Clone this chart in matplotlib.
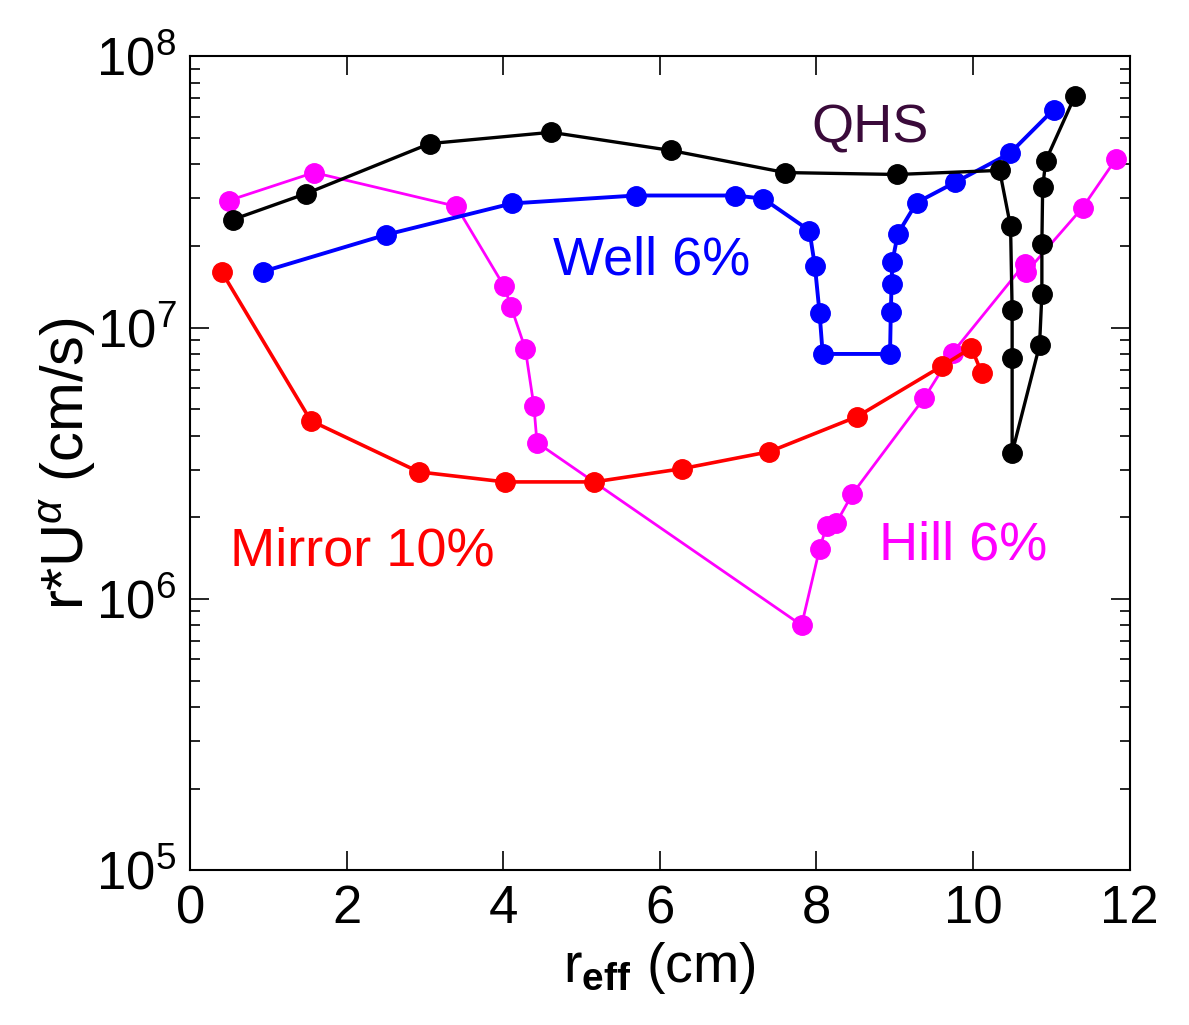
import numpy as np
import matplotlib
matplotlib.use('Agg')
import matplotlib.pyplot as plt
from matplotlib.ticker import LogLocator, NullFormatter

plt.rcParams['font.family'] = ['Liberation Sans', 'DejaVu Sans']
plt.rcParams['mathtext.fontset'] = 'custom'
plt.rcParams['mathtext.rm'] = 'Liberation Sans'
plt.rcParams['mathtext.it'] = 'Liberation Sans:italic'
plt.rcParams['mathtext.bf'] = 'Liberation Sans:bold'

# === Data ===
qhs_x = [0.54, 1.48, 3.06, 4.61, 6.14, 7.60, 9.03, 10.34, 10.48, 10.50, 10.50, 10.50,
         10.85, 10.88, 10.88, 10.89, 10.93, 11.30]
qhs_y = [2.5e7, 3.12e7, 4.77e7, 5.25e7, 4.5e7, 3.73e7, 3.67e7, 3.8e7, 2.36e7, 1.16e7, 7.7e6, 3.46e6,
         8.6e6, 1.33e7, 2.04e7, 3.29e7, 4.13e7, 7.12e7]

well_x = [0.93, 2.50, 4.11, 5.69, 6.96, 7.32, 7.91, 7.98, 8.04, 8.08, 8.94, 8.95, 8.96, 8.97,
          9.04, 9.28, 9.77, 10.47, 11.03]
well_y = [1.61e7, 2.2e7, 2.87e7, 3.07e7, 3.07e7, 2.99e7, 2.28e7, 1.69e7, 1.13e7, 8.0e6, 8.0e6,
          1.14e7, 1.45e7, 1.75e7, 2.22e7, 2.89e7, 3.43e7, 4.39e7, 6.37e7]

hill_x = [0.49, 1.58, 3.40, 4.01, 4.10, 4.28, 4.39, 4.43, 7.81, 8.04, 8.13, 8.25, 8.46, 9.38,
          9.74, 10.66, 10.68, 11.40, 11.83]
hill_y = [2.94e7, 3.73e7, 2.8e7, 1.42e7, 1.19e7, 8.37e6, 5.15e6, 3.77e6, 8.0e5, 1.53e6, 1.86e6,
          1.9e6, 2.44e6, 5.52e6, 8.09e6, 1.72e7, 1.6e7, 2.77e7, 4.2e7]

mirror_x = [0.40, 1.54, 2.92, 4.02, 5.16, 6.28, 7.40, 8.52, 9.61, 9.98, 10.11]
mirror_y = [1.61e7, 4.54e6, 2.94e6, 2.70e6, 2.70e6, 3.02e6, 3.49e6, 4.7e6, 7.24e6, 8.43e6, 6.82e6]

fig = plt.figure(figsize=(11.89, 10.25), dpi=100)
ax = fig.add_axes([0.160, 0.151, 0.790, 0.794])

ms = 14
ax.plot(hill_x, hill_y, '-o', color='#ff00ff', lw=2.0, ms=ms)
ax.plot(mirror_x, mirror_y, '-o', color='#ff0000', lw=2.6, ms=ms)
ax.plot(well_x, well_y, '-o', color='#0000ff', lw=2.8, ms=ms)
ax.plot(qhs_x, qhs_y, '-o', color='black', lw=2.4, ms=ms)

ax.set_yscale('log')
ax.set_xlim(0, 12)
ax.set_ylim(1e5, 1e8)
ax.set_xticks([0, 2, 4, 6, 8, 10, 12])
ax.yaxis.set_major_locator(LogLocator(base=10, numticks=10))
ax.yaxis.set_minor_locator(LogLocator(base=10, subs=np.arange(2, 10), numticks=10))
ax.yaxis.set_minor_formatter(NullFormatter())

ax.tick_params(which='both', direction='in', top=True, right=True, labelsize=38, width=1.2)
ax.tick_params(which='major', length=14, pad=10)
ax.tick_params(which='minor', length=7)
for s in ax.spines.values():
    s.set_linewidth(1.5)

ax.set_xlabel(r'r$_{\mathbf{eff}}$ (cm)', fontsize=40, labelpad=4)
ax.set_ylabel(r'r*U$^{\alpha}$ (cm/s)', fontsize=43, labelpad=-2)

ax.text(8.68, 5.4e7, 'QHS', color='#3a0a3a', fontsize=39, ha='center', va='center')
ax.text(5.9, 1.77e7, 'Well 6%', color='#0000ff', fontsize=39, ha='center', va='center')
ax.text(2.2, 1.5e6, 'Mirror 10%', color='#ff0000', fontsize=39, ha='center', va='center')
ax.text(9.87, 1.57e6, 'Hill 6%', color='#ff00ff', fontsize=39, ha='center', va='center')

fig.savefig('out.png', dpi=100)
